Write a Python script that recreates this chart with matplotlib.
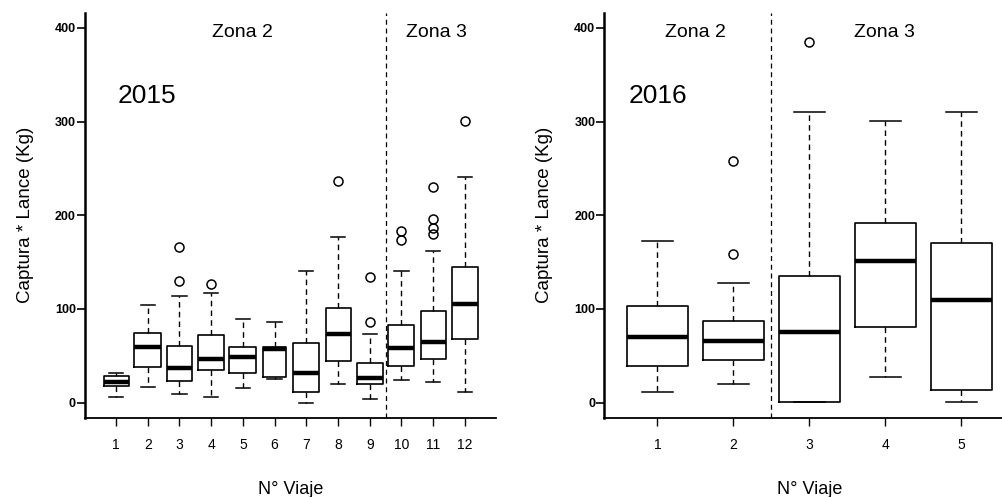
import matplotlib
matplotlib.use("Agg")
import matplotlib.pyplot as plt

plt.rcParams['font.family'] = ['Liberation Sans', 'DejaVu Sans']

# ---- 2015 data (Captura * Lance, Kg) ----
viajes_2015 = ["1", "2", "3", "4", "5", "6", "7", "8", "9", "10", "11", "12"]
q1_2015 = [18, 38, 23.5, 35, 32, 27.7, 11, 44.5, 19.6, 38.8, 47, 67.7]
med_2015 = [22.4, 59.8, 37.4, 47, 48.8, 57.3, 32, 73.6, 26.7, 58, 65, 105]
q3_2015 = [28.8, 74.7, 60.8, 72.3, 59.4, 59.4, 64, 101, 42.7, 83.2, 98.2, 145]
lo_2015 = [5.8, 16.4, 9.3, 5.8, 15.4, 25.3, 0, 19.6, 4.3, 23.9, 22.4, 11.4]
hi_2015 = [32, 104, 114, 117.4, 89, 85.8, 141, 177, 73.6, 141, 162, 240.5]
fliers_2015 = [[], [], [166, 130], [127], [], [], [], [237], [134.5, 85.8],
               [183, 173.6], [230, 195.7, 186, 179.7], [301]]
widths_2015 = [0.79, 0.84, 0.81, 0.81, 0.85, 0.72, 0.83, 0.79, 0.83, 0.82, 0.8, 0.82]

# ---- 2016 data ----
viajes_2016 = ["1", "2", "3", "4", "5"]
q1_2016 = [39.5, 45.1, 0.3, 80.6, 13.1]
med_2016 = [69.7, 65.7, 75.3, 151.5, 109.9]
q3_2016 = [103, 87.5, 134.7, 191.6, 170.3]
lo_2016 = [11.7, 19.9, 0.3, 27, 0.3]
hi_2016 = [172.4, 128, 310.4, 300.8, 310.4]
fliers_2016 = [[], [257.7, 158.2], [385], [], []]

yticks = [0, 100, 200, 300, 400]

fig = plt.figure(figsize=(10.03, 4.97), dpi=100)
ax1 = fig.add_axes([0.0847, 0.1596, 0.4098, 0.8144])
ax2 = fig.add_axes([0.6025, 0.1596, 0.4090, 0.8144])


def make_stats(labels, q1, med, q3, lo, hi, fl):
    out = []
    for i in range(len(labels)):
        out.append(dict(label=labels[i], q1=q1[i], med=med[i], q3=q3[i],
                        whislo=lo[i], whishi=hi[i], fliers=fl[i]))
    return out


def draw(ax, stats, widths, capw, xlim, split, year, zones_x):
    n = len(stats)
    pos = list(range(1, n + 1))
    ax.bxp(stats, positions=pos, widths=widths, capwidths=capw,
           patch_artist=False, manage_ticks=False,
           boxprops=dict(color='black', linewidth=1.2),
           medianprops=dict(color='black', linewidth=3.2, solid_capstyle='butt'),
           whiskerprops=dict(color='black', linewidth=1.0, linestyle=(0, (4, 3))),
           capprops=dict(color='black', linewidth=1.1),
           flierprops=dict(marker='o', markerfacecolor='none',
                           markeredgecolor='black', markersize=6.5,
                           markeredgewidth=1.1))
    ax.set_xlim(*xlim)
    ax.set_ylim(-16, 416)
    ax.axvline(split, color='black', linewidth=0.9, linestyle=(0, (4, 3)))
    ax.set_xticks(pos)
    ax.set_xticklabels([s['label'] for s in stats], fontsize=10)
    ax.set_yticks(yticks)
    ax.set_yticklabels([str(t) for t in yticks], fontsize=9, fontweight='bold')
    ax.tick_params(axis='y', length=5.5, width=1.2, pad=1)
    ax.tick_params(axis='x', length=6, width=1.0, pad=8.5)
    for s in ['top', 'right']:
        ax.spines[s].set_visible(False)
    ax.spines['left'].set_linewidth(1.8)
    ax.spines['bottom'].set_linewidth(1.3)
    ax.set_ylabel("Captura * Lance (Kg)", fontsize=13.5, labelpad=15)
    ax.set_xlabel("N° Viaje", fontsize=13, labelpad=21)
    ax.text(zones_x[0], 395, "Zona 2", fontsize=14, ha='center', va='center')
    ax.text(zones_x[1], 395, "Zona 3", fontsize=14, ha='center', va='center')
    ax.text(zones_x[2], 327, year, fontsize=19, ha='left', va='center')


draw(ax1, make_stats(viajes_2015, q1_2015, med_2015, q3_2015, lo_2015, hi_2015, fliers_2015),
     widths_2015, 0.45, (0.02, 12.98), 9.5, "2015", (5.0, 11.1, 1.05))
draw(ax2, make_stats(viajes_2016, q1_2016, med_2016, q3_2016, lo_2016, hi_2016, fliers_2016),
     0.8, 0.4, (0.3, 5.7), 2.5, "2016", (1.5, 3.99, 0.62))

fig.savefig("out.png", dpi=100)
